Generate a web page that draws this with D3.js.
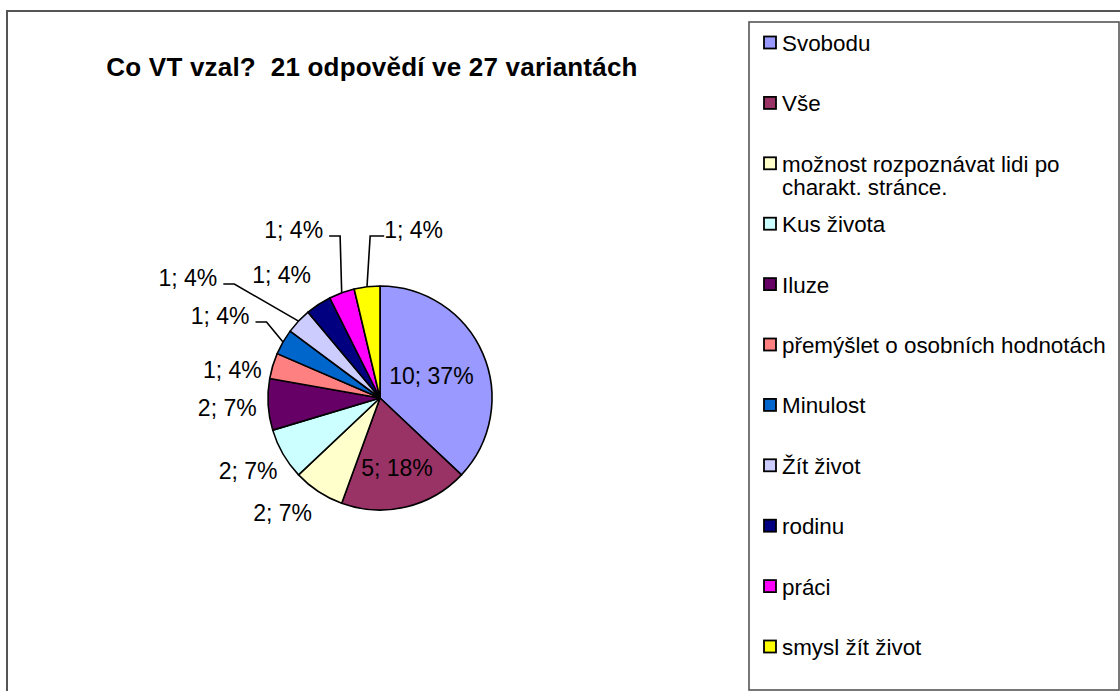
<!DOCTYPE html>
<html>
<head>
<meta charset="utf-8">
<script src="https://cdn.jsdelivr.net/npm/d3@7"></script>
<style>
    body { margin:0; background:#fff; }
    svg { display:block; font-family: Arial, "Liberation Sans", sans-serif; }
</style>
</head>
<body>
<svg id="chart" width="1120" height="691"></svg>
<script>
const title = "Co VT vzal?  21 odpovědí ve 27 variantách";
const categories = ["Svobodu", "Vše", "možnost rozpoznávat lidi po charakt. stránce.", "Kus života", "Iluze",
    "přemýšlet o osobních hodnotách", "Minulost", "Žít život", "rodinu", "práci", "smysl žít život"];
const values = [10, 5, 2, 2, 2, 1, 1, 1, 1, 1, 1];
const palette = ["#9999ff", "#993366", "#ffffcc", "#ccffff", "#660066", "#ff8080",
    "#0066cc", "#ccccff", "#000080", "#ff00ff", "#ffff00"];
// legend text split into lines, as the original wraps it
const legendLines = [["Svobodu"], ["Vše"], ["možnost rozpoznávat lidi po", "charakt. stránce."], ["Kus života"],
    ["Iluze"], ["přemýšlet o osobních hodnotách"], ["Minulost"], ["Žít život"], ["rodinu"], ["práci"], ["smysl žít život"]];

// label layout (manual nudges like the excel "best fit")
const insideLabel = [0, 1];
const withLeader = [6, 7, 9, 10];
const labelNudge = [[0,0],[4,15],[-15,-11],[-2,-2],[-3,1],[-4,15],[-30,-7],[-83,-17],[-16,2],[-35,-27],[51,-19]];

const svg = d3.select("#chart");
const cx = 380, cy = 398, radius = 112;
const rem = 23;

// outer chart frame
svg.append("rect")
    .attr("x", 7).attr("y", 11)
    .attr("width", 1130).attr("height", 700)
    .attr("fill", "none").attr("stroke", "#555").attr("stroke-width", 2);

svg.append("text")
    .attr("x", 372).attr("y", 76)
    .attr("text-anchor", "middle")
    .attr("font-size", 26).attr("font-weight", "bold")
    .attr("letter-spacing", 0.2)
    .style("white-space", "pre")
    .text(title);

// percentages, largest remainder so they add up to 100
function percents(vals) {
    let total = d3.sum(vals);
    let raw = vals.map(v => v / total * 100);
    let out = raw.map(Math.floor);
    let left = 100 - d3.sum(out);
    let order = d3.range(vals.length).sort((a, b) => (raw[b] - out[b]) - (raw[a] - out[a]) || a - b);
    for (let k = 0; k < left; k++) out[order[k]] += 1;
    return out;
}
const pct = percents(values);

const pie = d3.pie().sort(null).value(d => d)(values);
const arc = d3.arc().innerRadius(0).outerRadius(radius);
const insideArc = d3.arc().innerRadius(radius * 0.5).outerRadius(radius * 0.5);
const outsideArc = d3.arc().innerRadius(150).outerRadius(150);
const edgeArc = d3.arc().innerRadius(radius).outerRadius(radius);

const g = svg.append("g").attr("transform", "translate(" + cx + "," + cy + ")");

g.selectAll("path.slice")
    .data(pie)
    .enter()
    .append("path")
    .attr("class", "slice")
    .attr("d", arc)
    .attr("fill", (d, i) => palette[i])
    .attr("stroke", "#000")
    .attr("stroke-width", 1.6)
    .attr("stroke-linejoin", "round");

const labels = g.selectAll("text.lbl")
    .data(pie)
    .enter()
    .append("text")
    .attr("class", "lbl")
    .attr("font-size", rem)
    .attr("text-anchor", "middle")
    .attr("dy", "0.36em")
    .style("white-space", "pre")
    .attr("x", (d, i) => {
        let c = insideLabel.includes(i) ? insideArc.centroid(d) : outsideArc.centroid(d);
        return c[0] + labelNudge[i][0];
    })
    .attr("y", (d, i) => {
        let c = insideLabel.includes(i) ? insideArc.centroid(d) : outsideArc.centroid(d);
        return c[1] + labelNudge[i][1];
    })
    .text((d, i) => values[i] + "; " + pct[i] + "%");

// leader lines: slice edge -> elbow -> label side
labels.each(function(d, i) {
    if (!withLeader.includes(i)) return;
    let t = d3.select(this);
    let w = this.getComputedTextLength();
    let lx = +t.attr("x"), ly = +t.attr("y") + 6;
    let e = edgeArc.centroid(d);
    let side = e[0] < lx ? -1 : 1;   // label right of edge point -> line joins its left side
    let sx = side < 0 ? lx - w / 2 : lx + w / 2 + 6;
    let ex = side < 0 ? sx - 14 : sx + 11;
    g.append("path")
        .attr("d", d3.line()([[sx, ly], [ex, ly], e]))
        .attr("fill", "none")
        .attr("stroke", "#000")
        .attr("stroke-width", 1.6);
});

// legend
const legend = svg.append("g");
legend.append("rect")
    .attr("x", 749).attr("y", 22)
    .attr("width", 370).attr("height", 668)
    .attr("fill", "#fff").attr("stroke", "#555").attr("stroke-width", 1.6);

const legendY = d3.scaleLinear().domain([0, categories.length - 1]).range([43, 647]);

const items = legend.selectAll("g.item")
    .data(categories)
    .enter()
    .append("g")
    .attr("class", "item")
    .attr("transform", (d, i) => "translate(0," + legendY(i) + ")");

items.append("rect")
    .attr("x", 764).attr("y", -6.5)
    .attr("width", 12).attr("height", 12)
    .attr("fill", (d, i) => palette[i])
    .attr("stroke", "#000").attr("stroke-width", 1.8);

items.append("text")
    .attr("font-size", 22.4)
    .selectAll("tspan")
    .data((d, i) => legendLines[i])
    .enter()
    .append("tspan")
    .attr("x", 782)
    .attr("y", (d, j) => j * 23)
    .attr("dy", "0.36em")
    .text(d => d);
</script>
</body>
</html>
